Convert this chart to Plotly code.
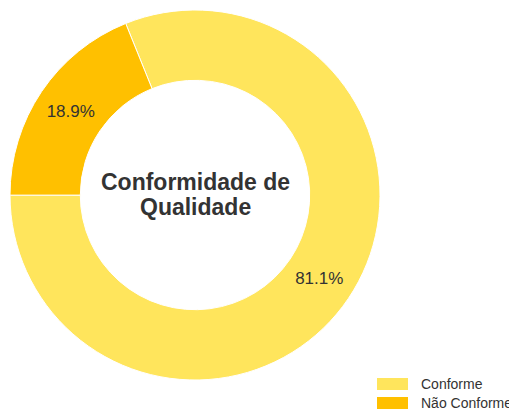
import plotly.graph_objects as go

labels = ["Conforme", "Não Conforme"]
values = [81.1, 18.9]
colors = ["#FFE55C", "#FFC000"]
title_lines = ["Conformidade de", "Qualidade"]

FONT = "Liberation Sans, Arial, sans-serif"
W, H = 517, 414
OFF = 8  # page body offset
ml, mr, mt, mb = 2, 10, 2, 10
pw, ph = W - ml - mr, H - mt - mb
D = 370


def px(x):
    return (x - OFF - ml) / pw


def py(y):
    return 1 - (y - OFF - mt) / ph


fig = go.Figure(go.Pie(
    labels=labels,
    values=values,
    hole=0.62,
    sort=False,
    direction="clockwise",
    rotation=338,
    marker=dict(colors=colors, line=dict(color="white", width=1)),
    texttemplate="%{value:.1f}%",
    textposition="inside",
    insidetextorientation="horizontal",
    textfont=dict(family=FONT, size=17, color="#333333"),
    showlegend=False,
    domain=dict(x=[0, D / pw], y=[1 - D / ph, 1]),
))

for line, yy in zip(title_lines, [182, 207]):
    fig.add_annotation(
        text="<b>" + line + "</b>",
        x=px(195), y=py(yy), xref="paper", yref="paper",
        xanchor="center", yanchor="middle",
        showarrow=False, align="center",
        font=dict(family=FONT, size=23, color="#333333"),
    )

# custom legend (wide swatches)
leg_y = [384, 403]
for lab, col, yy in zip(labels, colors, leg_y):
    fig.add_shape(type="rect", xref="paper", yref="paper",
                  x0=px(377), x1=px(408), y0=py(yy + 6), y1=py(yy - 6),
                  fillcolor=col, line=dict(width=0))
    fig.add_annotation(text=lab, xref="paper", yref="paper",
                       x=px(419), y=py(yy),
                       xanchor="left", yanchor="middle", showarrow=False,
                       font=dict(family=FONT, size=14, color="#333333"))

fig.update_layout(
    width=W, height=H,
    margin=dict(l=ml, r=mr, t=mt, b=mb),
    paper_bgcolor="white", plot_bgcolor="white",
)

fig.write_html("out.html")
